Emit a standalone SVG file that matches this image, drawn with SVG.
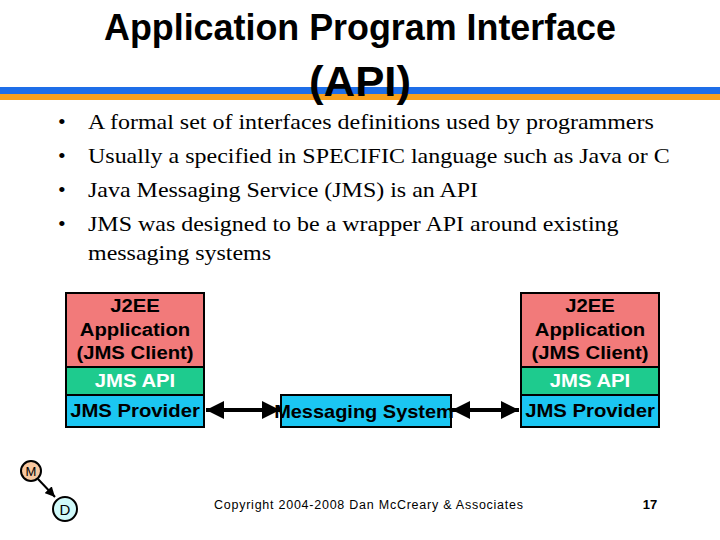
<svg xmlns="http://www.w3.org/2000/svg" width="720" height="540" viewBox="0 0 720 540">
<style>
.title{font-family:"Liberation Sans",Arial,sans-serif;font-weight:bold;fill:#000;text-anchor:middle}
.bul{font-family:"Liberation Serif","Times New Roman",serif;font-size:22px;fill:#000}
.bx{font-family:"Liberation Sans",Arial,sans-serif;font-weight:bold;font-size:17.5px;text-anchor:middle;fill:#000}
.wt{fill:#fff}
.pink{fill:#F27A7A;stroke:#000;stroke-width:2}
.green{fill:#1ECB8E;stroke:#000;stroke-width:2}
.blue{fill:#1BC6F2;stroke:#000;stroke-width:2}
.conn{stroke:#000;stroke-width:4;fill:none}
</style>
<defs>
<marker id="ah" viewBox="0 0 10 10" refX="10" refY="5" markerWidth="4.5" markerHeight="4.5" orient="auto-start-reverse" markerUnits="strokeWidth"><path d="M0,0 L10,5 L0,10 z" fill="#000"/></marker>
<marker id="sm" viewBox="0 0 10 10" refX="10" refY="5" markerWidth="5" markerHeight="5" orient="auto" markerUnits="strokeWidth"><path d="M0,0 L10,5 L0,10 z" fill="#000"/></marker>
</defs>
<rect width="720" height="540" fill="#fff"/>
<rect x="0" y="87" width="720" height="7" fill="#1E6EE8"/>
<rect x="0" y="94" width="720" height="6" fill="#F8A01C"/>
<text class="title" x="360" y="40" font-size="36" textLength="512" lengthAdjust="spacingAndGlyphs">Application Program Interface</text>
<text class="title" x="360" y="96" font-size="42" textLength="102" lengthAdjust="spacingAndGlyphs">(API)</text>
<g class="bul">
<text x="58" y="129">•</text>
<text x="58" y="163">•</text>
<text x="58" y="197">•</text>
<text x="58" y="231">•</text>
<g transform="translate(88,0) scale(1.09,1)">
<text x="0" y="129">A formal set of interfaces definitions used by programmers</text>
<text x="0" y="163">Usually a specified in SPECIFIC language such as Java or C</text>
<text x="0" y="197">Java Messaging Service (JMS) is an API</text>
<text x="0" y="231">JMS was designed to be a wrapper API around existing</text>
<text x="0" y="260">messaging systems</text>
</g>
</g>
<g id="left-client">
<rect class="pink" x="66" y="293" width="138" height="74"/>
<g transform="translate(135,0) scale(1.16,1)">
<text class="bx" x="0" y="312">J2EE</text>
<text class="bx" x="0" y="336">Application</text>
<text class="bx" x="0" y="359">(JMS Client)</text>
</g>
</g>
<g id="left-api">
<rect class="green" x="66" y="367" width="138" height="28"/>
<text class="bx wt" x="0" y="387" transform="translate(135,0) scale(1.16,1)">JMS API</text>
</g>
<g id="left-provider">
<rect class="blue" x="66" y="395" width="138" height="32"/>
<text class="bx" x="0" y="417" transform="translate(135,0) scale(1.16,1)">JMS Provider</text>
</g>
<g id="right-client">
<rect class="pink" x="521" y="293" width="138" height="74"/>
<g transform="translate(590,0) scale(1.16,1)">
<text class="bx" x="0" y="312">J2EE</text>
<text class="bx" x="0" y="336">Application</text>
<text class="bx" x="0" y="359">(JMS Client)</text>
</g>
</g>
<g id="right-api">
<rect class="green" x="521" y="367" width="138" height="28"/>
<text class="bx wt" x="0" y="387" transform="translate(590,0) scale(1.16,1)">JMS API</text>
</g>
<g id="right-provider">
<rect class="blue" x="521" y="395" width="138" height="32"/>
<text class="bx" x="0" y="417" transform="translate(590,0) scale(1.16,1)">JMS Provider</text>
</g>
<g id="messaging">
<rect class="blue" x="281" y="395" width="170" height="32"/>
<text class="bx" x="0" y="418" style="font-size:18px" transform="translate(364,0) scale(1.11,1)">Messaging System</text>
</g>
<g id="connectors">
<line class="conn" x1="206" y1="410" x2="280" y2="410" marker-start="url(#ah)" marker-end="url(#ah)"/>
<line class="conn" x1="452" y1="410" x2="519" y2="410" marker-start="url(#ah)" marker-end="url(#ah)"/>
<line x1="38" y1="479" x2="55" y2="497" stroke="#000" stroke-width="2" marker-end="url(#sm)"/>
</g>
<g id="M">
<circle cx="31" cy="471" r="10" fill="#F8C8A0" stroke="#000" stroke-width="2"/>
<text x="31" y="476" font-family="Liberation Sans,Arial,sans-serif" font-size="13" text-anchor="middle">M</text>
</g>
<g id="D">
<circle cx="65" cy="509" r="12" fill="#D0FAFA" stroke="#000" stroke-width="2"/>
<text x="65" y="515" font-family="Liberation Sans,Arial,sans-serif" font-size="15" text-anchor="middle">D</text>
</g>
<text x="214" y="509" font-family="Liberation Sans,Arial,sans-serif" font-size="12.5" textLength="309">Copyright 2004-2008 Dan McCreary &amp; Associates</text>
<text x="650" y="509" font-family="Liberation Sans,Arial,sans-serif" font-size="13" font-weight="bold" text-anchor="middle">17</text>
</svg>
